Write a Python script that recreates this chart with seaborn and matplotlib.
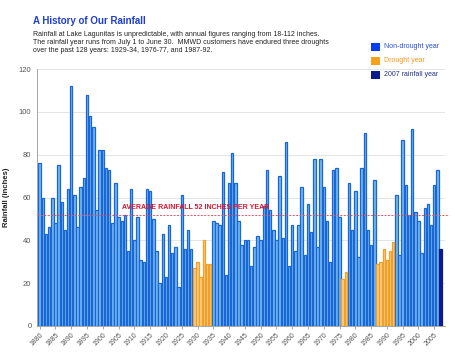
import numpy as np
import pandas as pd
import matplotlib
matplotlib.use("Agg")
import matplotlib.pyplot as plt
import seaborn as sns

years = list(range(1880, 2008))
rainfall = [
    76, 60, 43, 46, 60, 48, 75, 58, 45, 64,          # 1880-1889
    112, 61, 46, 65, 69, 108, 98, 93, 54, 82,        # 1890-1899
    82, 74, 73, 48, 67, 51, 49, 52, 35, 64,          # 1900-1909
    40, 51, 31, 30, 64, 63, 50, 35, 20, 43,          # 1910-1919
    23, 47, 34, 37, 18, 61, 36, 45, 36, 27,          # 1920-1929
    30, 23, 40, 29, 29, 49, 48, 47, 72, 24,          # 1930-1939
    67, 81, 67, 49, 38, 40, 40, 28, 37, 42,          # 1940-1949
    40, 56, 73, 54, 45, 40, 70, 41, 86, 28,          # 1950-1959
    47, 35, 47, 65, 33, 57, 44, 78, 37, 78,          # 1960-1969
    65, 49, 30, 73, 74, 51, 22, 25, 67, 45,          # 1970-1979
    63, 32, 74, 90, 45, 38, 68, 29, 30, 36,          # 1980-1989
    31, 35, 39, 61, 33, 87, 66, 52, 92, 53,          # 1990-1999
    49, 34, 55, 57, 47, 66, 73, 36,                  # 2000-2007
]
drought_years = list(range(1929, 1935)) + [1976, 1977] + list(range(1987, 1993))
current_year = 2007
average = 52

title = "A History of Our Rainfall"
subtitle_lines = [
    "Rainfall at Lake Lagunitas is unpredictable, with annual figures ranging from 18-112 inches.",
    "The rainfall year runs from July 1 to June 30.  MMWD customers have endured three droughts",
    "over the past 128 years: 1929-34, 1976-77, and 1987-92.",
]

kinds = []
for y in years:
    if y == current_year:
        kinds.append("2007 rainfall year")
    elif y in drought_years:
        kinds.append("Drought year")
    else:
        kinds.append("Non-drought year")

df = pd.DataFrame({"year": years, "rain": rainfall, "kind": kinds})

sns.set_theme(style="white")
plt.rcParams["font.family"] = ["Liberation Sans", "DejaVu Sans"]

bar_face = {"Non-drought year": "#72b8ee", "Drought year": "#fbcd85", "2007 rainfall year": "#0b1a8c"}
bar_edge = {"Non-drought year": "#1a66d6", "Drought year": "#f0a028", "2007 rainfall year": "#0b1a8c"}

fig = plt.figure(figsize=(4.56, 3.6), dpi=100)
ax = fig.add_axes([37 / 456, (360 - 326) / 360, (445 - 37) / 456, 257 / 360])

sns.barplot(data=df, x="year", y="rain", hue="kind", palette=bar_face, dodge=False,
            native_scale=True, width=0.78, legend=False, ax=ax, saturation=1,
            linewidth=0.9)
for patch in ax.patches:
    fc = patch.get_facecolor()
    for k, v in bar_face.items():
        if np.allclose(fc[:3], matplotlib.colors.to_rgb(v), atol=0.01):
            patch.set_edgecolor(bar_edge[k])

ax.set_xlim(1879.15, 2008.4)
ax.set_ylim(0, 120)
ax.set_yticks(range(0, 121, 20))
ax.yaxis.grid(True, color="#e4e4e4", linewidth=0.7)
ax.set_axisbelow(True)
ax.set_xticks(range(1880, 2006, 5))
ax.set_xticklabels([str(y) for y in range(1880, 2006, 5)], rotation=45, ha="right",
                   rotation_mode="anchor", fontsize=5, color="#555555")
ax.tick_params(axis="y", labelsize=5.5, labelcolor="#555555", length=2, width=0.5, color="#888888", pad=2)
ax.tick_params(axis="x", length=2, width=0.5, color="#888888", pad=2, bottom=True)
for s in ["top", "right"]:
    ax.spines[s].set_visible(False)
for s in ["left", "bottom"]:
    ax.spines[s].set_color("#999999")
    ax.spines[s].set_linewidth(0.6)
ax.set_xlabel("")
ax.set_ylabel("Rainfall (inches)", fontsize=5.5, fontweight="bold", color="#222222", labelpad=6)

ax.axhline(average, color="#e8506a", linestyle=(0, (2, 1.5)), linewidth=0.7, clip_on=False, xmax=1.01)
ax.text(1929.5, average + 1.6, "AVERAGE RAINFALL 52 INCHES PER YEAR", color="#d9142e",
        fontsize=5.0, fontweight="bold", ha="center", va="bottom")

fig.text(33 / 456, 1 - 24 / 360, title, color="#1f3fcf",
         fontsize=7.0, fontweight="bold", ha="left", va="baseline")
for i, line in enumerate(subtitle_lines):
    fig.text(33 / 456, 1 - (35.5 + i * 8.2) / 360, line,
             color="#222222", fontsize=5.0, ha="left", va="baseline")

legend_items = [("Non-drought year", "#0a3cf0", "#2a4fd8"),
                ("Drought year", "#f7a21b", "#f39a1a"),
                ("2007 rainfall year", "#0b1a8c", "#223388")]
for i, (lab, sq, tc) in enumerate(legend_items):
    yc = 47 + i * 14
    fig.patches.append(matplotlib.patches.Rectangle((371 / 456, 1 - (yc + 4) / 360), 9 / 456, 8 / 360,
                                                    transform=fig.transFigure, facecolor=sq, edgecolor="none"))
    fig.text(384 / 456, 1 - yc / 360, lab, color=tc, fontsize=5, ha="left", va="center")

fig.savefig("out.png", dpi=100)
